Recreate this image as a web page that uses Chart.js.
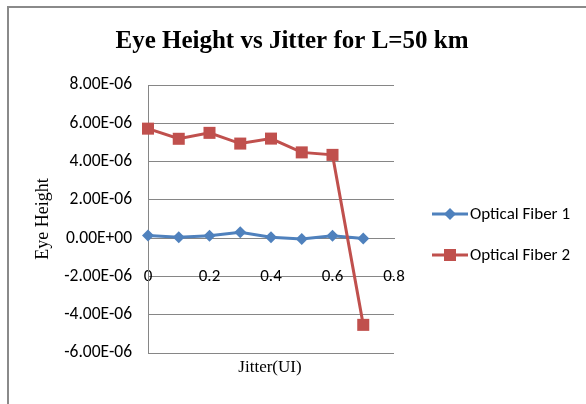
<!DOCTYPE html>
<html>
<head>
<meta charset="utf-8">
<style>
  html, body { margin: 0; padding: 0; background: #ffffff; }
  #wrap { width: 586px; height: 404px; position: relative; }
</style>
<script src="https://cdn.jsdelivr.net/npm/chart.js@4/dist/chart.umd.min.js"></script>
</head>
<body>
<div id="wrap"><canvas id="chart" width="586" height="404"></canvas></div>
<script>
// Jitter (UI) sampled along the horizontal axis
const jitter = [0, 0.1, 0.2, 0.3, 0.4, 0.5, 0.6, 0.7];
// Eye height for each fiber
const fiber1 = [0.14e-6, 0.05e-6, 0.13e-6, 0.31e-6, 0.05e-6, -0.04e-6, 0.12e-6, -0.02e-6];
const fiber2 = [5.72e-6, 5.19e-6, 5.50e-6, 4.94e-6, 5.20e-6, 4.48e-6, 4.35e-6, -4.53e-6];
const seriesNames = ['Optical Fiber 1', 'Optical Fiber 2'];
const chartTitle = 'Eye Height vs Jitter for L=50 km';
const xTitle = 'Jitter(UI)';
const yTitle = 'Eye Height';

const BLUE = '#4F81BD';
const RED = '#C0504D';
const GRID = '#868686';
const SANS = "Carlito, 'Liberation Sans', Arial, sans-serif";
const SERIF = "'Liberation Serif', 'Times New Roman', serif";

const toPoints = (ys) => jitter.map((x, i) => ({ x: x, y: ys[i] }));

function sci(v) {
  if (Math.abs(v) < 1e-12) v = 0;
  const [m, e] = v.toExponential(2).split('e');
  const n = parseInt(e, 10);
  const sign = n < 0 ? '-' : '+';
  return m + 'E' + sign + String(Math.abs(n)).padStart(2, '0');
}

function marker(ctx, style, x, y, color) {
  ctx.save();
  ctx.fillStyle = color;
  ctx.beginPath();
  if (style === 'rectRot') {
    const r = 6;
    ctx.moveTo(x, y - r);
    ctx.lineTo(x + r, y);
    ctx.lineTo(x, y + r);
    ctx.lineTo(x - r, y);
  } else {
    const h = 6;
    ctx.rect(x - h, y - h, 2 * h, 2 * h);
  }
  ctx.closePath();
  ctx.fill();
  ctx.restore();
}

// Frame, heading, horizontal axis caption and the series key
const decorations = {
  id: 'decorations',
  beforeDraw(chart) {
    const ctx = chart.ctx;
    ctx.save();
    ctx.strokeStyle = '#8a8a8a';
    ctx.lineWidth = 2;
    ctx.beginPath();
    ctx.moveTo(8, 404);
    ctx.lineTo(8, 7);
    ctx.lineTo(586, 7);
    ctx.stroke();
    ctx.restore();
  },
  afterDraw(chart) {
    const ctx = chart.ctx;
    ctx.save();
    ctx.fillStyle = '#000000';
    ctx.textAlign = 'center';
    ctx.textBaseline = 'middle';
    ctx.font = 'bold 25px ' + SERIF;
    ctx.fillText(chartTitle, 292, 42);

    ctx.font = '17px ' + SERIF;
    ctx.fillText(xTitle, 270, 368);

    ctx.textAlign = 'left';
    ctx.font = '17px ' + SANS;
    chart.data.datasets.forEach((ds, i) => {
      const y = 214 + i * 41;
      ctx.strokeStyle = ds.borderColor;
      ctx.lineWidth = 3;
      ctx.beginPath();
      ctx.moveTo(432, y);
      ctx.lineTo(468, y);
      ctx.stroke();
      marker(ctx, ds.pointStyle, 450, y, ds.borderColor);
      ctx.fillStyle = '#000000';
      ctx.fillText(ds.label, 470, y + 1);
    });
    ctx.restore();
  }
};

new Chart(document.getElementById('chart'), {
  type: 'line',
  data: {
    datasets: [
      {
        label: seriesNames[0],
        data: toPoints(fiber1),
        borderColor: BLUE,
        backgroundColor: BLUE,
        pointBackgroundColor: BLUE,
        pointBorderColor: BLUE,
        pointStyle: 'rectRot',
        pointRadius: 6,
        pointBorderWidth: 0,
        borderWidth: 3,
        tension: 0,
        order: 1,
        clip: false
      },
      {
        label: seriesNames[1],
        data: toPoints(fiber2),
        borderColor: RED,
        backgroundColor: RED,
        pointBackgroundColor: RED,
        pointBorderColor: RED,
        pointStyle: 'rect',
        pointRadius: 8.5,
        pointBorderWidth: 0,
        borderWidth: 3,
        tension: 0,
        order: 0,
        clip: false
      }
    ]
  },
  options: {
    responsive: false,
    animation: false,
    events: [],
    layout: { padding: { top: 85, right: 192, bottom: 51, left: 0 } },
    plugins: {
      legend: { display: false },
      title: { display: false },
      tooltip: { enabled: false }
    },
    scales: {
      x: {
        type: 'linear',
        position: { y: 0 },
        min: 0,
        max: 0.8,
        grid: { display: false },
        border: { display: true, color: GRID, width: 1 },
        ticks: {
          stepSize: 0.2,
          padding: 20,
          color: '#000000',
          font: { family: SANS, size: 17 },
          maxRotation: 0,
          callback: (v) => (Math.abs(v) < 1e-9 ? '0' : Number(v).toFixed(1))
        }
      },
      y: {
        min: -6e-6,
        max: 8e-6,
        afterFit(scale) { scale.width = 148; },
        grid: { color: GRID, lineWidth: 1, drawTicks: false },
        border: { display: true, color: GRID, width: 1 },
        ticks: {
          stepSize: 2e-6,
          padding: 16,
          color: '#000000',
          font: { family: SANS, size: 17.5 },
          callback: (v) => sci(v)
        },
        title: {
          display: true,
          text: yTitle,
          color: '#000000',
          font: { family: SERIF, size: 18 },
          padding: { top: 32, bottom: 0 }
        }
      }
    }
  },
  plugins: [decorations]
});
</script>
</body>
</html>
